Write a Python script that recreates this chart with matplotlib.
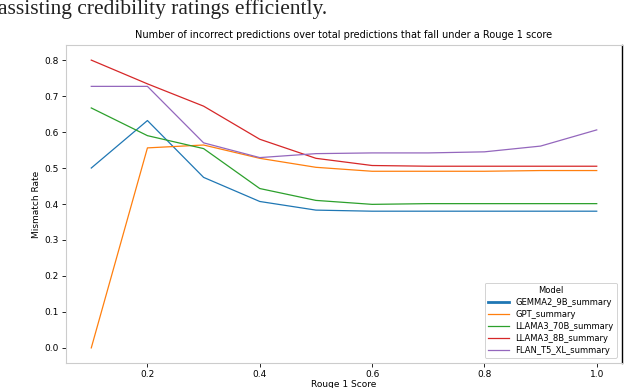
import matplotlib
matplotlib.use("Agg")
import matplotlib.pyplot as plt

rouge = [0.1, 0.2, 0.3, 0.4, 0.5, 0.6, 0.7, 0.8, 0.9, 1.0]
gemma = [0.500, 0.632, 0.474, 0.407, 0.383, 0.380, 0.380, 0.380, 0.380, 0.380]
gpt = [0.000, 0.556, 0.564, 0.527, 0.502, 0.491, 0.491, 0.491, 0.493, 0.493]
llama70 = [0.667, 0.590, 0.554, 0.443, 0.410, 0.399, 0.401, 0.401, 0.401, 0.401]
llama8 = [0.800, 0.734, 0.672, 0.580, 0.527, 0.507, 0.505, 0.505, 0.505, 0.505]
flan = [0.727, 0.727, 0.570, 0.529, 0.540, 0.542, 0.542, 0.545, 0.561, 0.606]
series_names = ["GEMMA2_9B_summary", "GPT_summary", "LLAMA3_70B_summary",
                "LLAMA3_8B_summary", "FLAN_T5_XL_summary"]
colors = ["#1f77b4", "#ff7f0e", "#2ca02c", "#d62728", "#9467bd"]
yticks = [0.0, 0.1, 0.2, 0.3, 0.4, 0.5, 0.6, 0.7, 0.8]
xticks = [0.2, 0.4, 0.6, 0.8, 1.0]

fig = plt.figure(figsize=(6.24, 3.88), dpi=100)
ax = fig.add_axes([66/624, 1-363/388, (622-66)/624, (363-45)/388])

for name, vals, c in zip(series_names, [gemma, gpt, llama70, llama8, flan], colors):
    ax.plot(rouge, vals, color=c, lw=0.9, label=name)

ax.set_xlim(0.055, 1.045)
ax.set_ylim(-0.042, 0.842)
ax.set_yticks(yticks)
ax.set_yticklabels([f"{v:.1f}" for v in yticks])
ax.set_xticks(xticks)
ax.set_xticklabels([f"{v:.1f}" for v in xticks])
ax.tick_params(labelsize=6.5, length=3, width=0.6, pad=2)
for s in ["left", "bottom", "top"]:
    ax.spines[s].set_color("#cccccc")
    ax.spines[s].set_linewidth(0.8)
ax.spines["right"].set_color("black")
ax.spines["right"].set_linewidth(1.0)

ax.set_title("Number of incorrect predictions over total predictions that fall under a Rouge 1 score",
             fontsize=7, pad=5)
ax.set_ylabel("Mismatch Rate", fontsize=6.5, labelpad=3)
ax.set_xlabel("Rouge 1 Score", fontsize=6.5, labelpad=0.5)

leg = ax.legend(title="Model", loc="lower right", fontsize=6, title_fontsize=6,
                frameon=True, framealpha=1, edgecolor="#cccccc", handlelength=2.5,
                borderaxespad=0.6, labelspacing=0.35)
leg.get_lines()[0].set_linewidth(2)
leg.get_frame().set_linewidth(0.6)

fig.text(-2/624, 1-14/388, "assisting credibility ratings efficiently.", fontsize=15.5,
         family="Liberation Serif", va="baseline", ha="left", color="#222222")

fig.savefig("out.png", dpi=100)
